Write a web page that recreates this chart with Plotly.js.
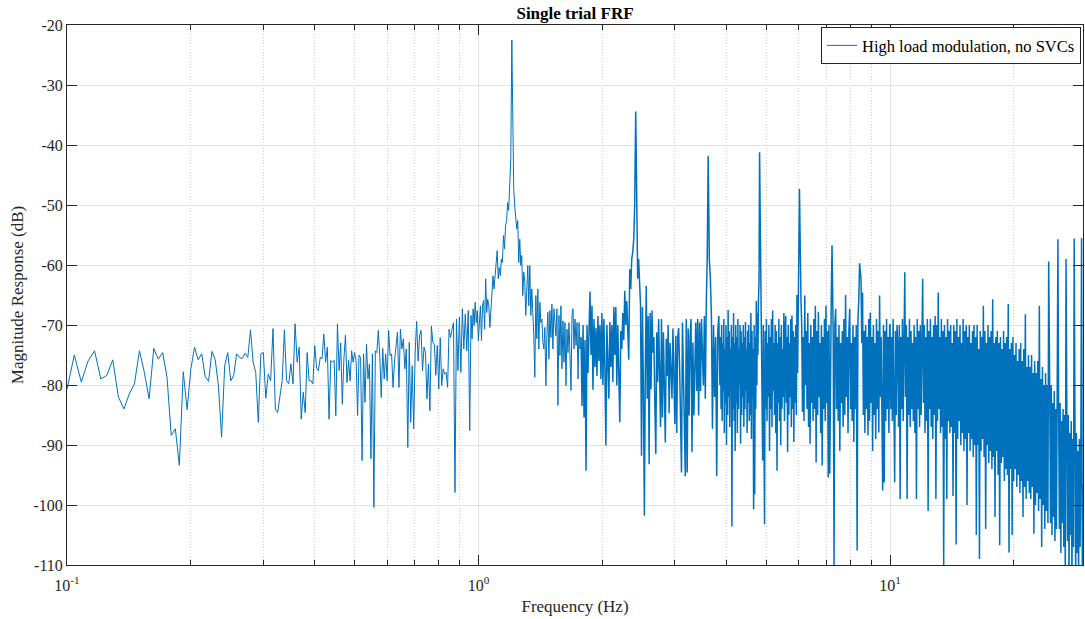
<!DOCTYPE html>
<html>
<head>
<meta charset="utf-8">
<script src="https://cdn.plot.ly/plotly-3.0.1.min.js"></script>
<style>html,body{margin:0;padding:0;background:#fff}#chart{width:1085px;height:619px}</style>
</head>
<body>
<div id="chart"></div>
<script>
// Magnitude (dB), grouped by frequency band
const magLow = [-80.7,-75,-79.5,-76,-74.3,-79,-78.4,-75.8,-82,-84,
-81.5,-79.8,-74.3,-77.9,-82.3,-73.9,-75.7,-74.6,-78.7,-88.4,
-87.3,-93.4,-77.8,-84.1,-77.3,-73.7,-75.8,-74.8,-78.6,-79.4,
-74.4,-75.8,-80.1,-88.7,-76.8,-74.6,-79.3,-78.4,-74.8,-75.4,
-75.6,-74.7,-75.4,-70.8,-76.2,-77.9,-86.2,-74.8,-74.6,-82.2,
-78.2,-79.3,-70.6,-84,-84.6,-81.5,-79.3,-70.8,-79.3,-79.8,
-76.5,-79.8,-69.8,-76.2,-73.7,-85.7,-81.2,-84.6,-74.6,-79.3,
-79.3,-79.8,-73.4,-77.2,-77.6,-75.4,-75.6,-71.5,-76.2,-73.7,
-85.7,-75.9,-76.2,-75.9,-85.1,-69.8,-77.6,-73,-83.2,-75.7,
-71.7,-79.6,-75.9,-79.3,-74.3,-76.2,-74.6,-75.9,-85.1,-75];

const magMid = [-75.4,-92.6,-74.8,-82.9,-73.2,-79,-76.5,-92.3,-74.8,-100.4,
-74.3,-74.6,-70.9,-75.1,-82.1,-73.9,-79,-74.8,-79.3,-70.9,
-75.1,-74.8,-80.4,-76,-72.9,-71.2,-80.4,-70.7,-74,-72.3,
-77.3,-74,-90.4,-72.9,-86.2,-76.8,-87.3,-74.6,-69.4,-76,
-71.8,-70.9,-77.6,-73.7,-74.6,-82.3,-76.5,-84.3,-70.2,-72.9,
-73.2,-78.4,-73.4,-80.7,-72.1,-80.1,-77.3,-78.2,-77.9,-80.4,
-70.7,-72.1,-70.7,-69.6,-97.9,-69,-77.6,-68.7,-77.9,-67.3,
-74,-68.2,-74.3,-67.6,-87.6];

const magPeak1Rise = [-68.4,-72.3,-67.3,-70.1,-66.2,-69.6,-67.6,-72.6,-68.4,-66.8,
-72.6,-66.8,-65.9,-70.7,-62.3,-67.9,-65.7,-66.8,-70.4,-67.3,
-65.1,-61.8,-64,-62.1,-59.6,-57.6,-62.3,-60.4,-61.8,-59,
-59.6,-55.1,-57.3,-53.4,-52.6,-49.6,-50.9,-46.8,-42.3,-22.5];

const magPeak1Fall = [-38,-47.3,-50.1,-52.1,-54,-52.6,-59.6,-55.7,-60.1,-58.4,
-65.1,-61.2,-62.9,-68.4,-64,-60.1,-66.8,-60.1,-68.4,-64,
-67.9,-71.8,-78.7,-65.1,-72.3,-64,-74,-66.2,-69.6,-69,
-72.9,-74,-70.4,-80.1,-71.8,-67.9,-75.7,-67.6,-72.1,-66.5,
-74,-67.3,-69.6,-71.8,-67.3,-83.4,-68.4,-75.1,-66.8,-77.3,
-69.3,-76.2,-69.6,-80.1,-70.7,-74.6,-69.6,-75.7,-80.9,-68.4,
-67.3,-74,-69,-73.4,-69.6,-79,-69.6,-74];

const magPeak2Rise = [-72,-83.5,-70,-85.4,-72.5,-94.3,-70,-78,-68.5,-64.4,
-75,-66.8,-80.8,-69,-77,-70.5,-78.5,-68.5,-76,-70,
-79,-68,-80,-69,-77.5,-90.1,-70,-79,-82.3,-69.5,
-77,-70,-79.5,-67,-75,-67,-80.1,-70,-76,-86.2,
-71,-74,-68,-72.5,-64.3,-70,-66,-73,-75.8,-60.7,
-64,-59,-57.9,-55.7,-50,-34.4];

const magPeak3Rise = [-50,-62.3,-59,-64.5,-66.8,-91.8,-67,-80.8,-101.8,-77.5,
-63.5,-82.3,-68.5,-93.2,-68,-80.7,-67.6,-74.6,-72,-83,
-91.5,-71.2,-79.5,-69,-78,-87,-69,-85.4,-71.2,-80,
-89.6,-72.3,-78.5,-70,-84.7,-73,-79,-82.3,-70.6,-80,
-86.5,-71.8,-88,-72,-70.5,-76.8,-86,-94.6,-69.6,-80,
-88.3,-95.2,-69,-94.6,-70.6,-85.1,-72,-69,-91.2,-72.9,
-85.1,-76,-69.6,-81,-69,-85.1,-69.6,-81,-69,-75,
-80.1,-68.5,-82.3,-66.8,-59,-41.8];

const magAfter3 = [-59,-62.3,-68.4,-87.3,-70,-82,-72,-95.2,-71,-68.5,-80];

const magPeak4Rise = [-72,-84,-70,-86,-73,-81,-69,-88,-74,-83,
-70,-90,-72,-85,-67.5,-82,-71,-87,-74,-80,
-70,-103.6,-72,-84,-68,-86,-73,-91,-70,-83,
-72,-88,-69,-84,-74,-80,-70,-89.8,-71,-85,
-73,-82,-70,-87,-72,-84,-69.5,-81,-74,-88,
-71,-83,-70,-86,-73,-85,-68,-89,-71,-82,
-74,-100.7,-70,-98.2,-72,-84,-66,-80,-68,-75,
-65.7,-62.6,-41.2];

const magPeak5Rise = [-62,-60.5,-72,-92.6,-70,-85,-103.2,-71,-84,-69,
-86,-73,-82,-70,-91,-72,-84,-69,-87,-67.6,
-81,-73,-85,-70,-88,-71,-94.3,-73,-83,-69,
-86,-72,-90,-70,-84,-74,-82,-68,-86,-71,
-68.5,-83,-72,-91.2,-70,-85,-73,-82,-69,-87,
-68.4,-84,-71,-89.5,-72,-83,-70,-85,-65,-78,
-66,-63,-47.3];

const magPeak6Rise = [-65.7,-70,-84.5,-72,-86,-65.1,-80,-71,-84,-68,
-87,-73,-89.8,-70,-83,-72,-86,-69,-84,-66.8,
-92.9,-71,-85,-67.8,-82,-73,-88,-70,-93.4,-72,
-84,-69,-86,-66.8,-83,-71,-95.4,-70,-94.8,-68,
-65,-56.7];

const magPeak7Rise = [-72,-110,-70,-67.3,-84,-72,-86,-70,-91,-73,
-83,-71,-87,-69,-85,-65,-82,-72,-88,-71,
-67.3,-84,-73,-86,-70,-89.5,-72,-84,-70,-107.6,
-69,-66,-59.7];

const magTo10 = [-62.3,-73,-64.6,-85,-71,-88,-70,-84,-72,-88.4,
-69,-86,-67.9,-83,-72,-91,-70,-85,-73,-89,
-69,-84,-71,-87.9,-65.1,-82,-72,-86,-97.6,-70,
-96.2,-71,-86,-69,-84,-72,-88,-70];

const magDecade = [-70,-84,-72,-86,-69,-83,-96.2,-71,-85,-70,
-73,-87,-70,-99,-72,-84,-69,-86,-74,-61.2,
-82,-70,-99,-72,-85,-69,-87,-71,-84,-73,
-86,-70,-88,-72,-99,-69,-84,-71,-87,-70,
-85,-73,-62.3,-83,-70,-88,-72,-86,-69,-101,
-71,-84,-69,-87,-72,-89,-70,-85,-68.5,-99,
-70,-86,-64.6,-84,-72,-88,-69,-87,-71,-110,
-70,-89,-72,-99,-69,-86,-71,-88,-70,-87,
-73,-98.5,-70,-88,-71,-106.6,-69,-89,-72,-86,
-70,-90,-73,-88,-69,-91,-71,-89,-70,-100,
-72,-88,-70,-91,-73,-89,-71,-92,-70,-90,
-72,-105,-70,-90,-74,-109,-71,-91,-72,-89,
-66.8,-92,-71,-104,-73,-90,-70,-93,-72,-91,
-71,-94,-65.7,-92,-73,-102,-72,-91,-71,-95,
-73,-106.7,-72,-93,-74,-92,-71,-96,-73,-94,
-72,-95,-66.5,-107.9,-74,-94,-73,-105,-72,-96,
-75,-94,-73,-97,-76,-95,-74,-98,-73,-96,
-76,-102,-74,-97,-68.2,-99,-77,-96,-75,-98,
-77,-99,-75,-97,-78,-104.8,-76,-100,-78,-98,
-76,-101,-66.8,-99,-79,-107,-77,-100,-80,-104,
-78,-101,-80,-103,-59.4];

const magTop = [-82,-103,-80,-105,-83,-102,-81,-106,-84,-104,-82,
-55.7,
-85,-104,-83,-108,-86,-103,-84,-107,-85,-112,
-59,
-87,-106,-85,-112,-88,-105,-86,-112,-89,-107,
-55.6,
-90,-112,-88,-108,-91,-112,-89,-107,-92,
-55.5,
-112,-96.6];

// Frequency band edges (Hz) for each group; 'lin' = uniform bins, 'log' = log-spaced
const bandEdges = [
  [0.1, 0.5125, 'lin'],
  [0.517, 0.952, 'log'],
  [0.959, 1.205, 'log'],
  [1.211, 1.765, 'log'],
  [1.775, 2.41, 'log'],
  [2.424, 3.615, 'log'],
  [3.638, 3.86, 'log'],
  [3.874, 4.82, 'log'],
  [4.853, 6.025, 'log'],
  [6.076, 7.23, 'log'],
  [7.278, 8.435, 'log'],
  [8.503, 9.98, 'log'],
  [10.0, 24.3, 'log'],
  [24.45, 29.45, 'log']
];
const bandMags = [magLow, magMid, magPeak1Rise, magPeak1Fall, magPeak2Rise, magPeak3Rise,
  magAfter3, magPeak4Rise, magPeak5Rise, magPeak6Rise, magPeak7Rise, magTo10, magDecade, magTop];

const majorTickVals = [0.1, 1, 10];
const majorTickText = ['10<sup>-1</sup>', '10<sup>0</sup>', '10<sup>1</sup>'];
const minorTickVals = [0.2,0.3,0.4,0.5,0.6,0.7,0.8,0.9,2,3,4,5,6,7,8,9,20];
const yTickVals = [-110,-100,-90,-80,-70,-60,-50,-40,-30,-20];
const yTickText = yTickVals.map(v => String(v));

// Build sparse (low-frequency) and dense (broadband) parts of the single curve
const denseFrom = 4; // index of first band drawn as the dense broadband part
const fSparse = [], mSparse = [], fDense = [], mDense = [];
bandEdges.forEach((b, k) => {
  const vals = bandMags[k];
  const n = vals.length;
  for (let i = 0; i < n; i++) {
    const t = n > 1 ? i / (n - 1) : 0;
    const f = b[2] === 'lin' ? b[0] + (b[1] - b[0]) * t
                             : Math.exp(Math.log(b[0]) + (Math.log(b[1]) - Math.log(b[0])) * t);
    if (k < denseFrom) { fSparse.push(f); mSparse.push(vals[i]); }
    else { fDense.push(f); mDense.push(vals[i]); }
  }
});
// join the two parts so the curve is continuous
fDense.unshift(fSparse[fSparse.length - 1]);
mDense.unshift(mSparse[mSparse.length - 1]);

const serif = '"Liberation Serif", "Times New Roman", Times, serif';
const axisColor = '#262626';
const lineColor = '#0072BD';

const traces = [
  {x: fSparse, y: mSparse, type: 'scatter', mode: 'lines', name: 'High load modulation, no SVCs',
   legendgroup: 'frf', line: {color: lineColor, width: 1}},
  {x: fDense, y: mDense, type: 'scatter', mode: 'lines', name: 'High load modulation, no SVCs',
   legendgroup: 'frf', showlegend: false, line: {color: lineColor, width: 1.5}}
];

const layout = {
  width: 1085, height: 619,
  margin: {l: 67, r: 2, t: 25, b: 54, pad: 0},
  paper_bgcolor: '#ffffff', plot_bgcolor: '#ffffff',
  font: {family: serif, size: 16, color: axisColor},
  title: {text: '<b>Single trial FRF</b>', x: 0.5, xref: 'paper', xanchor: 'center',
          y: 1 - 13/619, yref: 'container', yanchor: 'middle',
          font: {family: serif, size: 17, color: '#000'}},
  showlegend: true,
  legend: {x: 0.998, y: 0.996, xanchor: 'right', yanchor: 'top', itemwidth: 30,
           bgcolor: '#ffffff', bordercolor: axisColor, borderwidth: 1,
           font: {family: serif, size: 16.5, color: '#000'}},
  xaxis: {
    type: 'log', range: [-1, 1.469], autorange: false,
    tickmode: 'array', tickvals: majorTickVals, ticktext: majorTickText,
    ticks: 'inside', ticklen: 10, tickwidth: 1, tickcolor: axisColor,
    ticklabelstandoff: 6,
    showline: true, linecolor: axisColor, linewidth: 1, mirror: 'ticks',
    showgrid: true, gridcolor: '#e2e2e2', gridwidth: 1, zeroline: false,
    minor: {tickmode: 'array', tickvals: minorTickVals, ticks: 'inside', ticklen: 5,
            tickwidth: 1, tickcolor: axisColor, showgrid: true, gridcolor: '#cccccc',
            griddash: '1px,2px', gridwidth: 1},
    automargin: false,
    title: {text: 'Frequency (Hz)', standoff: 6, font: {family: serif, size: 17, color: axisColor}}
  },
  yaxis: {
    range: [-110, -20], autorange: false,
    tickmode: 'array', tickvals: yTickVals, ticktext: yTickText,
    ticks: 'inside', ticklen: 10, tickwidth: 1, tickcolor: axisColor,
    showline: true, linecolor: axisColor, linewidth: 1, mirror: 'ticks',
    showgrid: true, gridcolor: '#e2e2e2', gridwidth: 1, zeroline: false,
    automargin: false,
    title: {text: 'Magnitude Response (dB)', standoff: 5, font: {family: serif, size: 17, color: axisColor}}
  }
};

Plotly.newPlot('chart', traces, layout, {displayModeBar: false, staticPlot: true});
</script>
</body>
</html>
